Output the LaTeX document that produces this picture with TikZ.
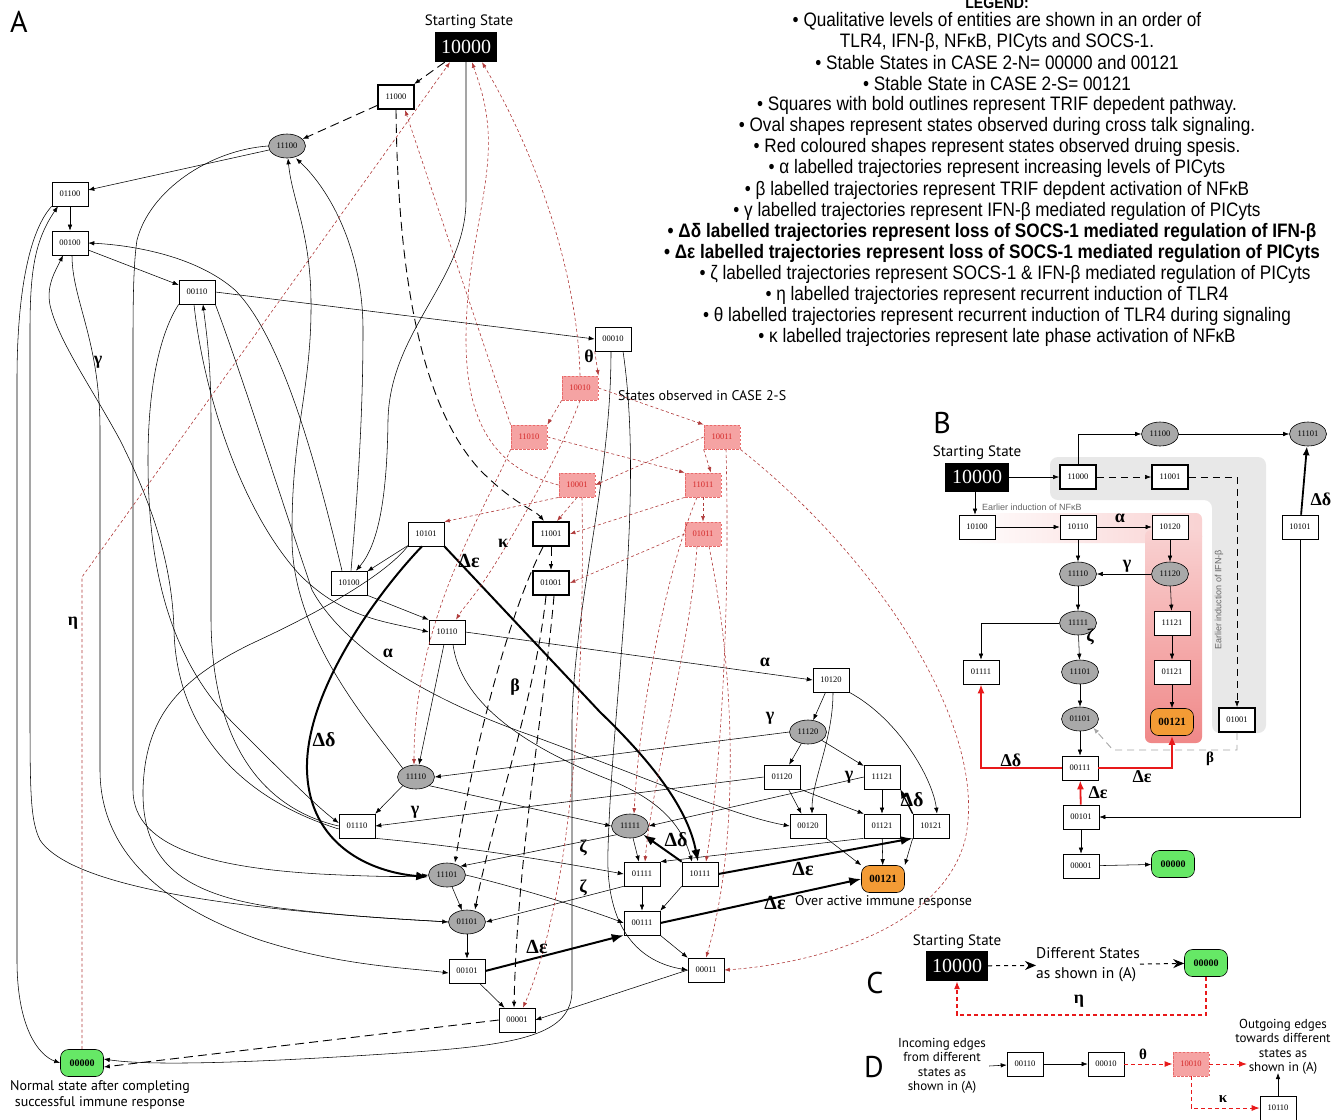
\documentclass[tikz,border=0pt]{standalone}
\usepackage{fontspec}
\setmainfont{Liberation Serif}
\newfontfamily\legfont[FakeStretch=0.88]{Liberation Sans}
\newfontfamily\smallfont{Liberation Sans}
\newfontfamily\hfont{PT Sans}
\usetikzlibrary{arrows.meta,shapes.geometric,calc}
\definecolor{ovalgray}{HTML}{A9A9A9}
\definecolor{redfill}{HTML}{F5A3A3}
\definecolor{redtext}{HTML}{D42A2A}
\definecolor{redborder}{HTML}{E86A6A}
\definecolor{darkred}{HTML}{B03A3A}
\definecolor{greenfill}{HTML}{66E866}
\definecolor{orangefill}{HTML}{F39B35}
\definecolor{brightred}{HTML}{E8191A}
\definecolor{lgray}{HTML}{E8E8E8}
\definecolor{pinkA}{HTML}{F9D2D2}
\definecolor{pinkB}{HTML}{F08888}
\newcommand{\nf}{\fontsize{8.5}{9}\selectfont}
\begin{document}
\begin{tikzpicture}[x=1pt,y=-1pt,
 every node/.style={inner sep=0pt},
 sbox/.style={draw, fill=white, line width=0.6pt, minimum width=36pt, minimum height=24pt, font=\nf},
 bbox/.style={sbox, line width=1.9pt},
 obox/.style={ellipse, draw, fill=ovalgray, line width=0.6pt, minimum width=37pt, minimum height=24pt, font=\nf},
 rbox/.style={draw=redborder, fill=redfill, dash pattern=on 2.5pt off 1.5pt, line width=0.8pt, text=redtext, minimum width=36pt, minimum height=24pt, font=\nf},
 startbox/.style={fill=black, text=white, minimum width=62pt, minimum height=30pt, font=\fontsize{20}{20}\selectfont},
 gbox/.style={draw, fill=greenfill, rounded corners=8pt, minimum width=43pt, minimum height=27pt, font=\fontsize{10}{10}\selectfont\bfseries, line width=0.6pt},
 ybox/.style={gbox, fill=orangefill, font=\fontsize{11}{11}\selectfont\bfseries},
 ln/.style={draw, line width=0.55pt, -{Latex[length=6pt,width=4.5pt]}},
 lnd/.style={ln, line width=0.9pt, dash pattern=on 9pt off 5pt},
 lnr/.style={draw=darkred, line width=0.6pt, dash pattern=on 3pt off 2.5pt, -{Latex[length=5.5pt,width=4pt]}},
 lnk/.style={draw, line width=2pt, -{Latex[length=12pt,width=9pt]}},
 lnrt/.style={draw=brightred, line width=1.3pt, dash pattern=on 4pt off 3pt, -{Latex[length=8pt,width=6pt]}},
 lnred/.style={draw=brightred, line width=1.8pt, -{Latex[length=9pt,width=7pt]}},
 lncd/.style={draw, line width=1pt, dash pattern=on 4pt off 4pt, -{Stealth[length=11pt,width=9pt]}},
 glab/.style={font=\fontsize{18}{18}\selectfont\bfseries},
 dlab/.style={font=\fontsize{20}{20}\selectfont\bfseries},
 hlab/.style={font=\hfont\fontsize{14}{16}\selectfont},
 plab/.style={font=\hfont\fontsize{30}{30}\selectfont},
 leg/.style={font=\legfont\fontsize{19.5}{21}\selectfont},
 legb/.style={font=\legfont\fontsize{19.5}{21}\selectfont\bfseries},
 smallg/.style={font=\smallfont\fontsize{9}{9}\selectfont, text=gray!80!black},
]
\fill[white] (0,0) rectangle (1340,1119);
\useasboundingbox (0,0) rectangle (1340,1119);

% ================= LEGEND =================
\node[font=\legfont\fontsize{16}{16}\selectfont\bfseries] (legT) at (997,3) {LEGEND:};
\node[leg] (leg1) at (997,21) {• Qualitative levels of entities are shown in an order of};
\node[leg] (leg2) at (997,42) {TLR4, IFN-β, NFκB, PICyts and SOCS-1.};
\node[leg] (leg3) at (997,63) {• Stable States in CASE 2-N= 00000 and 00121};
\node[leg] (leg4) at (997,84) {• Stable State in CASE 2-S= 00121};
\node[leg] (leg5) at (997,105) {• Squares with bold outlines represent TRIF depedent pathway.};
\node[leg] (leg6) at (997,126) {• Oval shapes represent states observed during cross talk signaling.};
\node[leg] (leg7) at (997,147) {• Red coloured shapes represent states observed druing spesis.};
\node[leg] (leg8) at (997,168) {• α labelled trajectories represent increasing levels of PICyts};
\node[leg] (leg9) at (997,190) {• β labelled trajectories represent TRIF depdent activation of NFκB};
\node[leg] (leg10) at (997,211) {• γ labelled trajectories represent IFN-β mediated regulation of PICyts};
\node[legb] (leg11) at (992,232) {• Δδ labelled trajectories represent loss of SOCS-1 mediated regulation of IFN-β};
\node[legb] (leg12) at (992,253) {• Δε labelled trajectories represent loss of SOCS-1 mediated regulation of PICyts};
\node[leg] (leg13) at (1005,274) {• ζ labelled trajectories represent SOCS-1 \& IFN-β mediated regulation of PICyts};
\node[leg] (leg14) at (997,295) {• η labelled trajectories represent recurrent induction of TLR4};
\node[leg] (leg15) at (997,316) {• θ labelled trajectories represent recurrent induction of TLR4 during signaling};
\node[leg] (leg16) at (997,337) {• κ labelled trajectories represent late phase activation of NFκB};

% ================= PANEL A =================
\node[plab] (pA) at (19,22) {A};
\node[hlab, font=\hfont\fontsize{15}{16}\selectfont] (aSS) at (469,22) {Starting State};
\node[startbox] (a10000) at (466,47) {10000};
\node[bbox] (a11000) at (396,97) {11000};
\node[obox] (a11100) at (287,146) {11100};
\node[sbox] (a01100) at (70,194) {01100};
\node[sbox] (a00100) at (70,243) {00100};
\node[sbox] (a00110) at (197,292) {00110};
\node[sbox] (a00010) at (613,339) {00010};
\node[rbox] (a10010) at (580,388) {10010};
\node[rbox] (a11010) at (529,437) {11010};
\node[rbox] (a10011) at (722,437) {10011};
\node[rbox] (a10001) at (577,485) {10001};
\node[rbox] (a11011) at (703,485) {11011};
\node[rbox] (a01011) at (703,534) {01011};
\node[sbox] (a10101) at (426,534) {10101};
\node[bbox] (a11001) at (551,534) {11001};
\node[bbox] (a01001) at (551,583) {01001};
\node[sbox] (a10100) at (349,583) {10100};
\node[sbox] (a10110) at (447,632) {10110};
\node[sbox] (a10120) at (831,680) {10120};
\node[obox] (a11120) at (808,732) {11120};
\node[obox] (a11110) at (416,777) {11110};
\node[sbox] (a01120) at (782,777) {01120};
\node[sbox] (a11121) at (882,777) {11121};
\node[sbox] (a01110) at (357,826) {01110};
\node[obox] (a11111) at (630,826) {11111};
\node[sbox] (a00120) at (808,826) {00120};
\node[sbox] (a01121) at (882,826) {01121};
\node[sbox] (a10121) at (931,826) {10121};
\node[obox] (a11101) at (447,875) {11101};
\node[sbox] (a01111) at (642,874) {01111};
\node[sbox] (a10111) at (700,874) {10111};
\node[ybox] (a00121) at (883,879) {00121};
\node[obox] (a01101) at (467,922) {01101};
\node[sbox] (a00111) at (642,923) {00111};
\node[sbox] (a00101) at (467,971) {00101};
\node[sbox] (a00011) at (706,970) {00011};
\node[sbox] (a00001) at (517,1020) {00001};
\node[gbox] (a00000) at (82,1063) {00000};
\node[hlab, anchor=west] (aCase) at (618,396) {States observed in CASE 2-S};
\node[hlab, anchor=west] (aOver) at (795,902) {Over active immune response};
\node[hlab, align=center] (aNorm) at (100,1095) {Normal state after completing\\successful immune response};

% black solid / dashed edges
\draw[lnd] (a10000) -- (a11000);
\draw[lnd] (a11000) -- (a11100);
\draw[lnd] (a11000.south) .. controls (398,290) and (425,410) .. (480,470) .. controls (515,505) and (535,510) .. ([xshift=-7pt]a11001.north);
\draw[ln] (a11100) -- (a01100);
\draw[ln] (a01100) -- (a00100);
\draw[ln] (a00100) -- (a00110);
\draw[ln] (a00110.east) -- (a00010.west);
\draw[ln] (a10000.south) -- (466,200) .. controls (466,280) and (390,330) .. (388,420) .. controls (387,500) and (378,545) .. ([xshift=7pt]a10100.north);
\draw[ln] ([xshift=2pt]a10100.north) .. controls (357,500) and (363,420) .. (363,330) .. controls (363,250) and (330,190) .. ([xshift=9pt]a11100.south);
\draw[ln] (a11110.north west) .. controls (375,730) and (293,640) .. (292,540) .. controls (291,430) and (312,390) .. (311,300) .. controls (310,230) and (292,200) .. ([xshift=1pt]a11100.south);
\draw[ln] ([xshift=-7pt]a10100.north) .. controls (320,480) and (285,340) .. (235,290) .. controls (195,255) and (130,245) .. (a00100.east);
\draw[ln] (a10101) -- (a10100);
\draw[ln] (a10100.south east) -- (a10110.north west);
\draw[ln] ([xshift=-3pt]a00110.south) .. controls (203,390) and (240,510) .. (300,575) .. controls (345,620) and (390,622) .. (a10110.west);
\draw[ln] (a00110.south east) .. controls (240,370) and (275,480) .. (312,590) .. controls (345,650) and (430,700) .. (530,735) .. controls (640,775) and (730,815) .. (a00120.west);
\draw[ln] (a01110.west) .. controls (260,808) and (212,740) .. (211,620) -- (211,420) .. controls (211,360) and (206,330) .. ([xshift=6pt]a00110.south);
\draw[ln] (a00110.south west) .. controls (162,330) and (148,380) .. (148,460) .. controls (148,570) and (170,660) .. (235,725) .. controls (280,770) and (315,805) .. ([yshift=3pt]a01110.west);
\draw[ln] ([yshift=-3pt]a01110.west) .. controls (230,795) and (176,720) .. (174,630) .. controls (172,560) and (150,500) .. (120,440) .. controls (90,385) and (58,340) .. (50,305) .. controls (46,285) and (56,270) .. ([xshift=-7pt]a00100.south);
\draw[ln] (a01101.west) .. controls (330,915) and (80,900) .. (40,840) .. controls (30,820) and (30,790) .. (30,700) -- (30,330) .. controls (30,270) and (35,240) .. ([xshift=-12pt]a01100.south);
\draw[ln] (a01100.south west) .. controls (30,230) and (17,290) .. (17,380) -- (17,960) .. controls (17,1030) and (40,1056) .. (a00000.west);
\draw[ln] ([xshift=2pt]a00100.south) .. controls (72,300) and (100,340) .. (100,430) -- (100,770) .. controls (100,850) and (160,905) .. (260,940) .. controls (340,966) and (410,968) .. ([yshift=-2pt]a00101.west);
\draw[ln] (a11100.west) .. controls (210,150) and (150,190) .. (137,240) .. controls (134,260) and (133,290) .. (133,340) -- (133,790) .. controls (133,850) and (220,868) .. (320,874) .. controls (380,877) and (410,877) .. (a11101.west);
\draw[ln] (a10101.south west) .. controls (385,575) and (320,612) .. (255,642) .. controls (175,680) and (145,720) .. (143,790) .. controls (142,860) and (180,895) .. (280,908) .. controls (360,918) and (420,920) .. (a01101.west);
\draw[lnk] ([xshift=-4pt]a10101.south) .. controls (380,590) and (305,690) .. (307,770) .. controls (309,845) and (370,872) .. ([yshift=-2pt]a11101.west);
\draw[lnk] (a10101.south east) -- (600,712) .. controls (655,765) and (688,810) .. ([xshift=-2pt]a10111.north);
\draw[ln] ([xshift=-3pt]a10110.south) -- ([xshift=3pt]a11110.north);
\draw[ln] (a10110.east) -- (a10120.west);
\draw[ln] ([xshift=6pt]a10110.south) .. controls (460,700) and (520,745) .. (610,780) .. controls (665,802) and (683,830) .. ([xshift=-8pt]a10111.north);
\draw[ln] (a11110.south west) -- (a01110.north east);
\draw[ln] (a11110.south east) -- (a11111.west);
\draw[ln] (a11120.west) -- (a11110.east);
\draw[ln] (a01120.west) -- (a01110.east);
\draw[ln] (a11121.west) -- (a11111.east);
\draw[ln] (a10120) -- (a11120);
\draw[ln] ([xshift=2pt]a10120.south) .. controls (833,740) and (812,780) .. ([xshift=4pt]a00120.north);
\draw[ln] (a10120.south east) .. controls (900,720) and (933,780) .. ([xshift=6pt]a10121.north);
\draw[ln] (a11120) -- (a01120);
\draw[ln] (a11120) -- (a11121);
\draw[ln] (a01120) -- (a00120);
\draw[ln] (a01120.south east) -- (a01121.north west);
\draw[ln] (a11121) -- (a01121);
\draw[ln, line width=1.3pt, -{Latex[length=9pt,width=7pt]}] (a10121.north west) -- (a11121.south east);
\draw[ln] (a01121) -- (a00121);
\draw[ln] (a00120.south east) -- (a00121.north west);
\draw[ln] (a10121.south west) -- (a00121.north east);
\draw[ln] (a01121.south west) -- (a01111.north east);
\draw[ln] (a11111) -- (a01111);
\draw[ln] (a11111.south west) -- (a11101.north east);
\draw[ln] (a01111.south west) -- (a01101.east);
\draw[ln] (a01111) -- (a00111);
\draw[lnk] (a10111.north west) -- (a11111.south east);
\draw[lnk] (a10111.east) -- (a10121.south west);
\draw[ln] (a10111.south west) -- (a00111.north east);
\draw[lnk] (a00111.east) -- (a00121.west);
\draw[ln] (a00111.south east) -- (a00011.north west);
\draw[lnk] (a00101.east) -- (a00111.south west);
\draw[ln] (a00101) -- (a00001);
\draw[ln] (a11101) -- (a01101);
\draw[ln] (a01101) -- (a00101);
\draw[ln] (a00011.west) -- (a00001.east);
\draw[lnd] (a00001.west) -- ([yshift=-4pt]a00000.east);
\draw[ln] ([xshift=-2pt]a00010.south) .. controls (611,480) and (575,600) .. (572,720) -- (572,990) .. controls (572,1035) and (520,1045) .. (400,1053) .. controls (250,1063) and (150,1066) .. ([yshift=4pt]a00000.east);
\draw[ln] ([xshift=10pt]a00010.south) .. controls (645,500) and (612,700) .. (608,850) .. controls (605,930) and (640,962) .. (a00011.west);
\draw[ln] (a11101.east) .. controls (520,888) and (590,910) .. (a00111.west);
\draw[ln] (a01110.south east) .. controls (480,848) and (580,866) .. (a01111.west);
% beta dashed
\draw[lnd] (a11001) -- (a01001);
\draw[lnd] ([xshift=-8pt]a11001.south) .. controls (505,620) and (470,770) .. ([xshift=8pt]a11101.north);
\draw[lnd] ([xshift=-5pt]a01001.south) .. controls (535,700) and (492,820) .. ([xshift=8pt]a01101.north);
\draw[lnd] ([xshift=3pt]a01001.south) .. controls (545,700) and (517,860) .. ([xshift=-3pt]a00001.north);
% red dashed
\draw[lnr] (a00010.south west) -- (a10010.north east);
\draw[lnr] (a10010.south west) -- (a11010.north east);
\draw[lnr] (a10010.east) -- (a10011.north west);
\draw[lnr] (a10010.south) .. controls (562,450) and (520,525) .. (490,572) .. controls (474,597) and (463,608) .. ([xshift=9pt]a10110.north);
\draw[lnr] (a10010.north) .. controls (578,280) and (540,160) .. ([xshift=16pt]a10000.south);
\draw[lnr] (a10001.west) .. controls (500,470) and (466,430) .. (466,340) .. controls (466,250) and (492,190) .. (488,130) .. controls (486,100) and (478,80) .. ([xshift=6pt]a10000.south);
\draw[lnr] (a11010.north west) -- ([xshift=9pt]a11000.south);
\draw[lnr] (a11010.east) -- (a11011.north west);
\draw[lnr] (a11010.south west) .. controls (480,520) and (414,620) .. ([xshift=-2pt]a11110.north);
\draw[lnr] (a10011.west) -- (a10001.east);
\draw[lnr] (a10011.south west) -- ([xshift=8pt]a11011.north);
\draw[lnr] ([xshift=4pt]a10011.south) .. controls (730,600) and (722,760) .. ([xshift=6pt]a10111.north);
\draw[lnr] (a10011.south east) .. controls (880,560) and (990,730) .. (965,840) .. controls (940,935) and (800,965) .. (a00011.east);
\draw[lnr] (a11011) -- (a01011);
\draw[lnr] (a11011.south west) -- (a11001.east);
\draw[lnr] ([xshift=-6pt]a11011.south) .. controls (670,560) and (640,700) .. ([xshift=4pt]a11111.north);
\draw[lnr] (a01011.west) -- (a01001.east);
\draw[lnr] ([xshift=-6pt]a01011.south) .. controls (690,650) and (652,780) .. ([xshift=3pt]a01111.north);
\draw[lnr] ([xshift=6pt]a01011.south) .. controls (740,700) and (735,860) .. (a00011.north);
\draw[lnr] (a10001.south) -- ([xshift=6pt]a11001.north);
\draw[lnr] (a10001.south west) -- (a10101.north east);
\draw[lnr] ([xshift=5pt]a10001.south) .. controls (585,700) and (570,900) .. ([xshift=6pt]a00001.north);
\draw[lnr] (a00000.north) -- (82,577) -- ([xshift=-16pt]a10000.south);
% labels A
\node[glab] (gA1) at (98,362) {γ};
\node[glab] (gA2) at (73,623) {η};
\node[glab] (gA3) at (589,356) {θ};
\node[glab] (gA4) at (503,543) {κ};
\node[dlab] (gA5) at (469,561) {Δε};
\node[glab] (gA6) at (388,653) {α};
\node[glab] (gA7) at (765,662) {α};
\node[glab] (gA8) at (515,687) {β};
\node[glab] (gA9) at (770,718) {γ};
\node[dlab] (gA10) at (324,740) {Δδ};
\node[glab] (gA11) at (849,777) {γ};
\node[glab] (gA12) at (415,812) {γ};
\node[dlab] (gA13) at (912,800) {Δδ};
\node[glab] (gA14) at (583,848) {ζ};
\node[dlab] (gA15) at (676,840) {Δδ};
\node[dlab] (gA16) at (803,869) {Δε};
\node[glab] (gA17) at (583,888) {ζ};
\node[dlab] (gA18) at (775,903) {Δε};
\node[dlab] (gA19) at (537,947) {Δε};

% ================= PANEL B =================
\fill[lgray, rounded corners=8pt] (1050,457) -- (1266,457) -- (1266,733) -- (1212,733) -- (1212,500) -- (1050,500) -- cycle;
\shade[left color=white, right color=pinkA, rounded corners=6pt] (957,513) rectangle (1202,543);
\shade[top color=pinkA, bottom color=pinkB, rounded corners=6pt] (1145,530) rectangle (1202,743);
\node[plab] (pB) at (942,423) {B};
\node[hlab, font=\hfont\fontsize{15}{16}\selectfont] (bSS) at (977,453) {Starting State};
\node[startbox, minimum width=64pt, minimum height=29pt] (b10000) at (977,477) {10000};
\node[bbox] (b11000) at (1078,477) {11000};
\node[bbox] (b11001) at (1170,477) {11001};
\node[obox] (b11100) at (1160,434) {11100};
\node[obox] (b11101t) at (1308,434) {11101};
\node[sbox] (b10100) at (977,527) {10100};
\node[sbox] (b10110) at (1078,527) {10110};
\node[sbox] (b10120) at (1170,527) {10120};
\node[sbox] (b10101) at (1300,527) {10101};
\node[obox] (b11110) at (1078,574) {11110};
\node[obox] (b11120) at (1170,574) {11120};
\node[obox] (b11111) at (1078,623) {11111};
\node[sbox] (b11121) at (1172,623) {11121};
\node[sbox] (b01111) at (981,672) {01111};
\node[obox] (b11101) at (1080,672) {11101};
\node[sbox] (b01121) at (1172,672) {01121};
\node[obox] (b01101) at (1080,719) {01101};
\node[ybox] (b00121) at (1172,722) {00121};
\node[bbox] (b01001) at (1237,720) {01001};
\node[sbox] (b00111) at (1080,768) {00111};
\node[sbox] (b00101) at (1081,817) {00101};
\node[sbox] (b00001) at (1081,866) {00001};
\node[gbox] (b00000) at (1173,864) {00000};
\node[smallg, anchor=west] (bNF) at (982,507) {Earlier induction of NFκB};
\node[smallg, rotate=90] (bIFN) at (1219,600) {Earlier induction of IFN-β};

\draw[ln] (b10000) -- (b11000);
\draw[ln] (b11000.north) |- (b11100.west);
\draw[ln] (b11100) -- (b11101t);
\draw[lnd, line width=0.6pt, dash pattern=on 7pt off 5pt] (b11000) -- (b11001);
\draw[lnd, line width=0.6pt, dash pattern=on 7pt off 5pt] (b11001.east) -| (b01001.north);
\draw[ln] ([xshift=-2pt]b10000.south) -- ([xshift=-2pt]b10100.north);
\draw[ln] (b10100) -- (b10110);
\draw[ln] (b10110) -- (b10120);
\draw[ln] (b10110) -- (b11110);
\draw[ln] (b10120) -- (b11120);
\draw[ln] (b11120) -- (b11110);
\draw[ln] (b11120) -- (b11121);
\draw[ln] (b11121) -- (b01121);
\draw[ln] (b01121) -- (b00121);
\draw[ln] (b11110) -- (b11111);
\draw[ln] (b11111.west) -| (b01111.north);
\draw[ln] (b11111) -- (b11101);
\draw[ln] (b11101) -- (b01101);
\draw[ln] (b01101) -- (b00111);
\draw[lnred] (b00111.west) -| (b01111.south);
\draw[lnred] (b00111.east) -| (b00121.south);
\draw[lnred] (b00101) -- (b00111);
\draw[ln] (b00101) -- (b00001);
\draw[ln] (b00001) -- (b00000);
\draw[ln] (b10101.south) |- (b00101.east);
\draw[lnk, line width=1.8pt, -{Latex[length=9pt,width=7pt]}] (b10101) -- (b11101t);
\draw[draw=gray!70, line width=0.9pt, dash pattern=on 7pt off 5pt, -{Latex[length=6pt,width=4.5pt]}] (b01001.south) -- (1237,750) -- (1113,750) -- (b01101.south east);
\node[glab] (gB1) at (1120,518) {α};
\node[glab] (gB2) at (1127,566) {γ};
\node[glab] (gB3) at (1090,637) {ζ};
\node[glab] (gB4) at (1321,499) {Δδ};
\node[glab] (gB5) at (1011,760) {Δδ};
\node[glab] (gB6) at (1142,777) {Δε};
\node[glab] (gB7) at (1098,793) {Δε};
\node[glab, font=\fontsize{15}{15}\selectfont\bfseries] (gB8) at (1210,759) {β};

% ================= PANEL C =================
\node[plab] (pC) at (875,983) {C};
\node[hlab, font=\hfont\fontsize{15}{16}\selectfont] (cSS) at (957,942) {Starting State};
\node[startbox] (c10000) at (957,966) {10000};
\node[font=\hfont\fontsize{15.5}{20}\selectfont, align=left] (cDiff) at (1088,965) {Different States\\as shown in (A)};
\node[gbox] (c00000) at (1206,963) {00000};
\draw[lncd] (c10000) -- (cDiff);
\draw[lncd] (cDiff) -- (c00000);
\coordinate (cLow) at (1206,1015);
\draw[lnrt] (c00000.south) -- (cLow) -| (c10000.south);
\node[glab] (gC1) at (1079,1001) {η};

% ================= PANEL D =================
\node[plab] (pD) at (874,1067) {D};
\node[font=\hfont\fontsize{13}{14.5}\selectfont, align=center] (dIn) at (942,1066) {Incoming edges\\from different\\states as\\shown in (A)};
\node[sbox] (d00110) at (1025,1064) {00110};
\node[sbox] (d00010) at (1106,1064) {00010};
\node[rbox] (d10010) at (1191,1064) {10010};
\node[font=\hfont\fontsize{13}{14.5}\selectfont, align=center] (dOut) at (1283,1047) {Outgoing edges\\towards different\\states as\\shown in (A)};
\node[sbox] (d10110) at (1278,1108) {10110};
\coordinate (dOutPt) at (1247,1064);
\draw[ln] ([xshift=3pt]dIn.east) -- (d00110);
\draw[ln] (d00110) -- (d00010);
\draw[lnrt, line width=1pt] (d00010) -- (d10010);
\draw[lnrt, line width=1pt] (d10010.east) -- (dOutPt);
\draw[lnrt, line width=1pt] (d10010.south) |- (d10110.west);
\draw[ln] (d10110.north) -- ([yshift=2pt]d10110.north |- dOut.south);
\node[glab, font=\fontsize{15}{15}\selectfont\bfseries] (gD1) at (1143,1054) {θ};
\node[glab, font=\fontsize{15}{15}\selectfont\bfseries] (gD2) at (1223,1099) {κ};
\end{tikzpicture}
\end{document}
